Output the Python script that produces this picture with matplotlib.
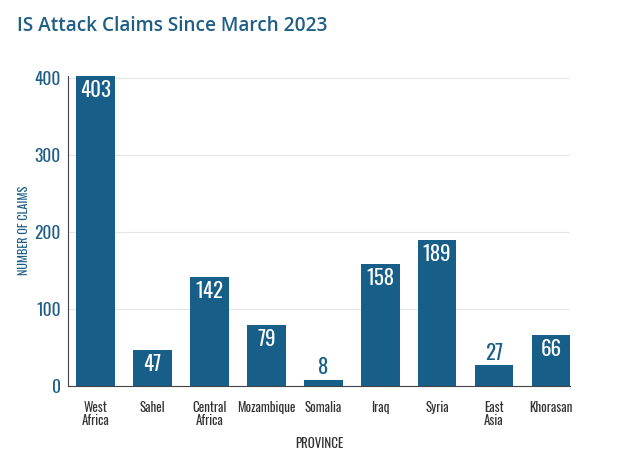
import matplotlib
matplotlib.use("Agg")
import matplotlib.pyplot as plt
from matplotlib import font_manager

# ---------------------------------------------------------------------------
# Data
# ---------------------------------------------------------------------------

provinces = ["West\nAfrica", "Sahel", "Central\nAfrica", "Mozambique", "Somalia",
             "Iraq", "Syria", "East\nAsia", "Khorasan"]
claims = [403, 47, 142, 79, 8, 158, 189, 27, 66]
y_ticks = [0, 100, 200, 300, 400]

BLUE = "#175e89"
TITLE_BLUE = "#1f5f86"
DARK = "#333333"

COND = ["Oswald", "Roboto Condensed", "DejaVu Sans"]

# Montserrat may only be installed as a thin variable font
mont_weights = [f.weight for f in font_manager.fontManager.ttflist if f.name == "Montserrat"]
mont_ok = any((w if isinstance(w, int) else 400) >= 500 for w in mont_weights)
TITLE_FONT = ["Montserrat", "DejaVu Sans"] if mont_ok else ["Open Sans", "DejaVu Sans"]

fig = plt.figure(figsize=(6.4, 4.65), dpi=100)
ax = fig.add_axes([0.106, 0.170, 0.785, 0.667])

x = range(len(claims))
ax.bar(x, claims, width=0.68, color=BLUE, zorder=3)

# value labels: inside the bar, or above it if the bar is too short
for i, v in enumerate(claims):
    if v > 30:
        ax.text(i, v - 5, str(v), ha="center", va="top", color="white",
                fontsize=15, family=COND, zorder=4)
    else:
        ax.text(i, v + 3, str(v), ha="center", va="bottom", color=BLUE,
                fontsize=15, family=COND, zorder=4)

ax.set_xlim(-0.49, 8.34)
ax.set_ylim(0, 403)
ax.set_yticks(y_ticks)
ax.set_xticks(list(x))
ax.set_xticklabels(provinces, family=COND, fontsize=9.3, color=DARK, linespacing=1.0)
for lbl in ax.get_yticklabels():
    lbl.set_family(COND)
    lbl.set_fontsize(12.5)
    lbl.set_color(TITLE_BLUE)

ax.grid(axis="y", color="#e6e6e6", linewidth=0.8, zorder=0)
for s in ["top", "right"]:
    ax.spines[s].set_visible(False)
ax.spines["left"].set_color("#444444")
ax.spines["bottom"].set_color("#444444")
ax.tick_params(axis="y", length=0, pad=5)
ax.tick_params(axis="x", length=0, pad=11)

ax.set_ylabel("NUMBER OF CLAIMS", family=COND, fontsize=8.8, color=TITLE_BLUE, labelpad=3)
ax.set_xlabel("PROVINCE", family=COND, fontsize=9.3, color=DARK, labelpad=7)

fig.text(0.027, 0.945, "IS Attack Claims Since March 2023", fontsize=13.7,
         family=TITLE_FONT, fontweight="semibold", color=TITLE_BLUE, va="center")

fig.savefig("out.png", dpi=100)
